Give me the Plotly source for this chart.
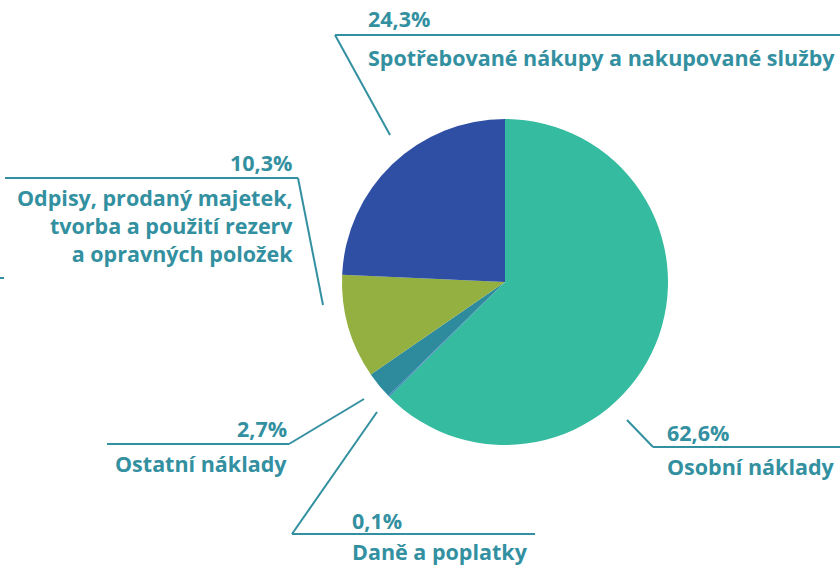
import plotly.graph_objects as go

categories = ["Osobní náklady", "Daně a poplatky", "Ostatní náklady",
              "Odpisy, prodaný majetek,<br>tvorba a použití rezerv<br>a opravných položek",
              "Spotřebované nákupy a nakupované služby"]
values = [62.6, 0.1, 2.7, 10.3, 24.3]
pct_labels = ["62,6%", "0,1%", "2,7%", "10,3%", "24,3%"]
colors = ["#35BB9F", "#3A6FC4", "#2E8B9E", "#93B040", "#2E4FA3"]

W, H = 840, 566
TXT = "#3390A0"
FONT = "Open Sans"
FS = 21.5

def px(x, y):
    return x / W, 1 - y / H

fig = go.Figure(go.Pie(
    values=values, labels=categories, sort=False, direction="clockwise", rotation=0,
    marker=dict(colors=colors, line=dict(width=0)), textinfo="none", hoverinfo="skip",
    domain=dict(x=[342 / W, 668 / W], y=[1 - 445 / H, 1 - 119 / H]),
))

# leader lines (pixel polylines)
leaders = [
    [(627, 420), (653, 447), (840, 447)],
    [(377, 412), (292, 534), (535, 534)],
    [(364, 399), (289, 444), (107, 444)],
    [(323, 305), (298, 178), (5, 178)],
    [(390, 135), (335, 35), (840, 35)],
    [(0, 278), (4, 278)],
]
shapes = []
for pts in leaders:
    for (x0, y0), (x1, y1) in zip(pts[:-1], pts[1:]):
        a, b = px(x0, y0)
        c, d = px(x1, y1)
        shapes.append(dict(type="line", xref="paper", yref="paper", x0=a, y0=b, x1=c, y1=d,
                           line=dict(color=TXT, width=2)))

# text positions: (pct x, pct y, label x, label centre y, anchor)
pos = [
    (665, 432, 665, 466, "left"),
    (350, 520, 350, 551, "left"),
    (289, 429, 289, 463, "right"),
    (294, 162, 295, 226, "right"),
    (366, 18, 366, 57, "left"),
]
ann = []
for i, (xp, yp, xl, yl, anc) in enumerate(pos):
    a, b = px(xp, yp)
    ann.append(dict(x=a, y=b, xref="paper", yref="paper", text=f"<b>{pct_labels[i]}</b>",
                    showarrow=False, xanchor=anc, yanchor="middle", align=anc,
                    font=dict(family=FONT, size=FS, color=TXT)))
    a, b = px(xl, yl)
    ann.append(dict(x=a, y=b, xref="paper", yref="paper", text=f"<b>{categories[i]}</b>",
                    showarrow=False, xanchor=anc, yanchor="middle", align=anc,
                    font=dict(family=FONT, size=FS, color=TXT)))

fig.update_layout(width=W, height=H, margin=dict(l=0, r=0, t=0, b=0),
                  paper_bgcolor="white", plot_bgcolor="white", showlegend=False,
                  shapes=shapes, annotations=ann)
fig.write_html("out.html")
